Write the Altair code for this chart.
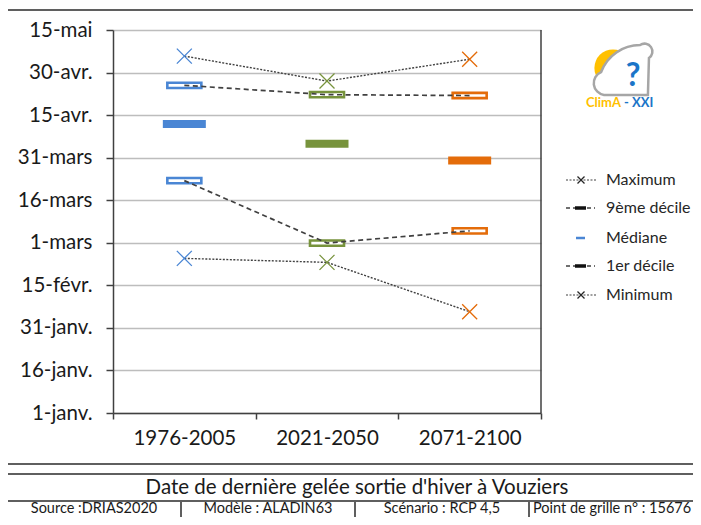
import altair as alt
import pandas as pd

# ---- data (Excel day serials: 1 = 1 janv.) ----
periods = ["1976-2005", "2021-2050", "2071-2100"]
maximum = [126.8, 118.0, 125.7]
decile_9 = [116.5, 113.2, 112.9]
mediane = [102.9, 95.9, 90.0]
decile_1 = [82.9, 60.9, 65.2]
minimum = [55.5, 54.1, 36.7]

tick_values = [1, 16, 31, 46, 61, 76, 91, 106, 121, 136]
tick_labels = ["1-janv.", "16-janv.", "31-janv.", "15-févr.", "1-mars",
               "16-mars", "31-mars", "15-avr.", "30-avr.", "15-mai"]
period_colors = ["#4a86d4", "#77933c", "#e46c0a"]

legend_labels = ["Maximum", "9ème décile", "Médiane", "1er décile", "Minimum"]
title_text = "Date de dernière gelée sortie d'hiver à Vouziers"
cell_texts = ["Source :DRIAS2020", "Modèle :  ALADIN63", "Scénario : RCP 4,5",
              "Point de grille n° : 15676"]

FONT = "Lato"
W, H = 428, 383

rows = []
for stat, vals in [("Maximum", maximum), ("9ème décile", decile_9),
                   ("Médiane", mediane), ("1er décile", decile_1),
                   ("Minimum", minimum)]:
    for p, v in zip(periods, vals):
        rows.append({"period": p, "stat": stat, "value": v})
df = pd.DataFrame(rows)

label_expr = ("[" + ",".join("'%s'" % t for t in tick_labels) + "][indexof(["
              + ",".join(str(v) for v in tick_values) + "], datum.value)]")

x_enc = alt.X("period:N", sort=periods,
              scale=alt.Scale(type="band", domain=periods, paddingInner=0, paddingOuter=0),
              axis=alt.Axis(title=None, labelAngle=0, tickBand="extent", tickSize=6,
                            labelPadding=9, labelFontSize=20.5, labelFont=FONT,
                            labelColor="#1a1a1a", domainColor="#404040", domainWidth=1.5,
                            tickColor="#404040", tickWidth=1.5, grid=False),
              bandPosition=0.5)
y_enc = alt.Y("value:Q",
              scale=alt.Scale(domain=[1, 136], nice=False, zero=False),
              axis=alt.Axis(title=None, values=tick_values, labelExpr=label_expr,
                            tickSize=7, labelPadding=14, labelFontSize=20.5, labelFont=FONT,
                            labelColor="#1a1a1a", domainColor="#404040", domainWidth=1.5,
                            tickColor="#404040", tickWidth=1.5, grid=True,
                            gridColor="#bdbdbd", gridWidth=1.3))
col_scale = alt.Scale(domain=periods, range=period_colors)

X_PATH = "M-1,-1L1,1M-1,1L1,-1"
BOX_PATH = "M-1,-0.155H1V0.155H-1Z"

base = alt.Chart(df)

dotted = base.transform_filter(
    alt.FieldOneOfPredicate(field="stat", oneOf=["Maximum", "Minimum"])
).mark_line(color="#404040", strokeDash=[2, 1.5], strokeWidth=1.4).encode(
    x=x_enc, y=y_enc, detail="stat:N")

crosses = base.transform_filter(
    alt.FieldOneOfPredicate(field="stat", oneOf=["Maximum", "Minimum"])
).mark_point(shape=X_PATH, size=225, filled=False, strokeWidth=1.3, opacity=1).encode(
    x=x_enc, y=y_enc, color=alt.Color("period:N", scale=col_scale, legend=None))

boxes = base.transform_filter(
    alt.FieldOneOfPredicate(field="stat", oneOf=["9ème décile", "1er décile"])
).mark_point(shape=BOX_PATH, size=1156, filled=True, fill="white", strokeWidth=2.6,
             opacity=1).encode(
    x=x_enc, y=y_enc, stroke=alt.Stroke("period:N", scale=col_scale, legend=None))

dashed = base.transform_filter(
    alt.FieldOneOfPredicate(field="stat", oneOf=["9ème décile", "1er décile"])
).mark_line(color="#404040", strokeDash=[5, 3.5], strokeWidth=1.7).encode(
    x=x_enc, y=y_enc, detail="stat:N")

medians = base.transform_filter(
    alt.FieldEqualPredicate(field="stat", equal="Médiane")
).mark_tick(thickness=8, size=43, opacity=1).encode(
    x=x_enc, y=y_enc, color=alt.Color("period:N", scale=col_scale, legend=None))

one = pd.DataFrame({"k": [0]})


def rule(x1, x2, y1, y2, color="#404040", width=1.5, dash=None):
    kw = dict(color=color, strokeWidth=width)
    if dash:
        kw["strokeDash"] = dash
    return alt.Chart(one).mark_rule(**kw).encode(
        x=alt.value(x1), x2=alt.value(x2), y=alt.value(y1), y2=alt.value(y2))


def text(t, x, y, size, align="center", color="#1a1a1a", weight="normal"):
    return alt.Chart(one).mark_text(align=align, baseline="middle", font=FONT,
                                    fontSize=size, color=color, fontWeight=weight).encode(
        x=alt.value(x), y=alt.value(y), text=alt.value(t))


def frame(x1, x2, y1, y2):
    return alt.Chart(one).mark_rect(fillOpacity=0, stroke="#5f5f5f", strokeWidth=2).encode(
        x=alt.value(x1), x2=alt.value(x2), y=alt.value(y1), y2=alt.value(y2))


def sym(shape, x, y, size, color, width=1.2):
    return alt.Chart(one).mark_point(shape=shape, size=size, filled=False, color=color,
                                     strokeWidth=width, opacity=1).encode(
        x=alt.value(x), y=alt.value(y))


deco = []
# right border of plot
deco.append(rule(W, W, 0, H))
# outer frames
deco.append(frame(-107, 620, -20, 434))
deco.append(frame(-107, 620, 444, 530))
deco.append(rule(-107, 620, 471, 471, color="#5f5f5f", width=2))
for xv in [68, 242, 416]:
    deco.append(rule(xv, xv, 471, 530, color="#5f5f5f", width=2))
deco.append(text(title_text, 244, 458, 20.5))
deco.append(text(cell_texts[0], -19, 479, 14.5))
deco.append(text(cell_texts[1], 155, 479, 14.5))
deco.append(text(cell_texts[2], 329, 479, 14.5))
deco.append(text(cell_texts[3], 420, 479, 14.5, align="left"))

# legend
leg_y = [150, 178, 208, 236, 265]
for i, lab in enumerate(legend_labels):
    yy = leg_y[i]
    if lab in ("Maximum", "Minimum"):
        deco.append(rule(453, 484, yy, yy, color="#404040", width=1.2, dash=[2, 1.5]))
        deco.append(sym(X_PATH, 468, yy, 49, "#262626", 1.3))
    elif lab == "Médiane":
        deco.append(rule(463, 472, yy, yy, color=period_colors[0], width=2.5))
    else:
        deco.append(rule(453, 482, yy, yy, color="#404040", width=1.6, dash=[4, 3]))
        deco.append(rule(462, 473, yy, yy, color="#111111", width=3.5))
    deco.append(text(lab, 493, yy, 16, align="left", color="#262626"))

# logo
CLOUD = ("M-0.77,0.92 A0.46,0.46 0 0 1 -0.88,0.04 A1.6,1.6 0 0 1 0.62,-1.0 "
         "A0.3,0.3 0 0 1 0.96,-0.5 L0.92,0.92 Z")
logo = [
    alt.Chart(one).mark_point(shape="circle", size=1385, filled=True, color="#ffc000",
                              opacity=1).encode(x=alt.value(500), y=alt.value(38)),
    alt.Chart(one).mark_point(shape=CLOUD, size=2704, filled=True, fill="white",
                              stroke="#a6a6a6", strokeWidth=2.5, opacity=1).encode(
        x=alt.value(511), y=alt.value(41)),
    text("?", 520, 46, 32, color="#1b75c8", weight="bold"),
    text("ClimA", 508, 73, 13, align="right", color="#ffc000", weight="bold"),
    text("- XXI", 511, 73, 13, align="left", color="#1b75c8", weight="bold"),
]

chart = alt.layer(dotted, crosses, boxes, dashed, medians, *deco, *logo).properties(
    width=W, height=H,
    autosize=alt.AutoSizeParams(type="none"),
    padding={"left": 105, "top": 22, "right": 152, "bottom": 104},
    background="white",
).configure_view(stroke=None)

chart.save("out.html", embed_options={"renderer": "svg", "actions": False})
